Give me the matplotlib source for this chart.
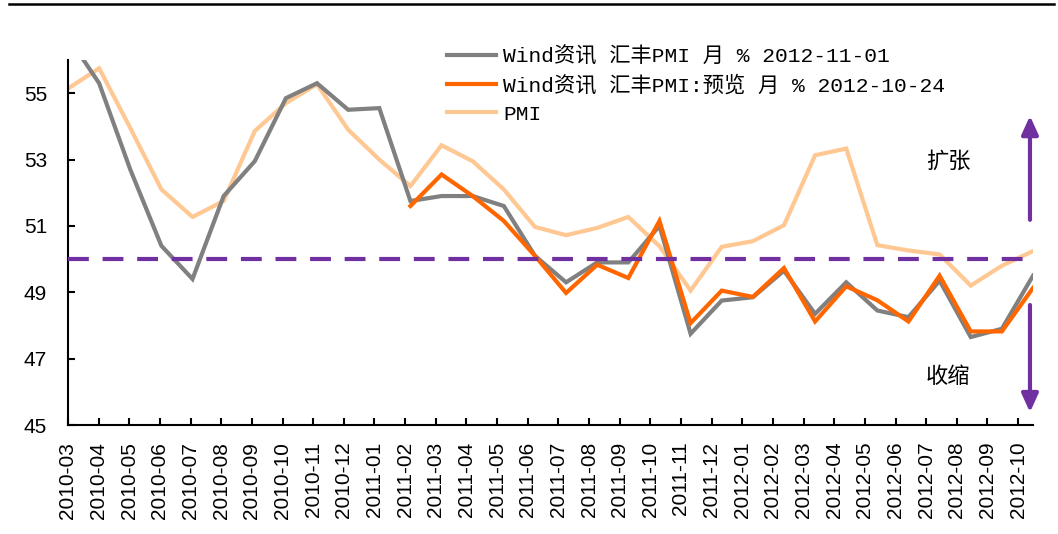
import matplotlib
matplotlib.use("Agg")
import matplotlib.pyplot as plt
from matplotlib.lines import Line2D
import numpy as np

months = ["2010-03", "2010-04", "2010-05", "2010-06", "2010-07", "2010-08", "2010-09", "2010-10",
          "2010-11", "2010-12", "2011-01", "2011-02", "2011-03", "2011-04", "2011-05", "2011-06",
          "2011-07", "2011-08", "2011-09", "2011-10", "2011-11", "2011-12", "2012-01", "2012-02",
          "2012-03", "2012-04", "2012-05", "2012-06", "2012-07", "2012-08", "2012-09", "2012-10"]

hsbc_final = [56.7, 55.3, 52.7, 50.4, 49.4, 51.9, 52.95, 54.85, 55.3, 54.5, 54.55, 51.75,
              51.9, 51.9, 51.6, 50.1, 49.3, 49.9, 49.9, 51.0, 47.75, 48.75, 48.85, 49.65,
              48.35, 49.3, 48.45, 48.25, 49.35, 47.65, 47.9, 49.5]

hsbc_flash = [None] * 11 + [51.6, 52.55, 51.9, 51.15, 50.1, 48.98, 49.83, 49.43, 51.15,
                            48.07, 49.05, 48.86, 49.73, 48.12, 49.18, 48.76, 48.12, 49.5,
                            47.82, 47.82, 49.13]

pmi = [55.14, 55.75, 53.95, 52.1, 51.27, 51.75, 53.86, 54.7, 55.27, 53.9, 53.0, 52.2,
       53.43, 52.95, 52.1, 50.97, 50.72, 50.94, 51.27, 50.39, 49.05, 50.37, 50.54, 51.02,
       53.13, 53.33, 50.42, 50.26, 50.14, 49.2, 49.8, 50.24]

labels = ["Wind资讯 汇丰PMI 月 % 2012-11-01",
          "Wind资讯 汇丰PMI:预览 月 % 2012-10-24",
          "PMI"]
threshold = 50
yticks = [45, 47, 49, 51, 53, 55]

c_gray = "#808080"
c_orange = "#FF6600"
c_light = "#FFC893"
c_purple = "#7030A0"

W, H = 1058, 534
fig = plt.figure(figsize=(W / 100, H / 100), dpi=100)
ax = fig.add_axes([68 / W, 1 - 425 / H, (1033 - 68) / W, (425 - 60) / H])

x = np.arange(len(months))
flash = np.array([np.nan if v is None else v for v in hsbc_flash], dtype=float)

ax.plot(x, pmi, color=c_light, lw=3.0, solid_joinstyle="miter", zorder=2)
ax.plot(x, hsbc_final, color=c_gray, lw=3.0, solid_joinstyle="miter", zorder=3)
ax.plot(x, flash, color=c_orange, lw=3.0, solid_joinstyle="miter", zorder=4)
ax.axhline(threshold, color=c_purple, lw=3.0, dashes=(5, 3.3), zorder=5)

ax.set_xlim(0, len(months) - 1)
ax.set_ylim(45, 56)
ax.set_yticks(yticks)
ax.set_yticklabels([str(v) for v in yticks], family="Liberation Sans", fontsize=15)

tick_scale = 30.65 / 31.13
ax.set_xticks(x * tick_scale)
ax.set_xticklabels(months, rotation=90, family="Liberation Sans", fontsize=15)
ax.tick_params(axis="both", direction="in", length=5, width=1.5, colors="black")
ax.tick_params(axis="x", pad=12)
ax.tick_params(axis="y", pad=15)
for s in ["top", "right"]:
    ax.spines[s].set_visible(False)
for s in ["left", "bottom"]:
    ax.spines[s].set_linewidth(1.5)
    ax.spines[s].set_color("black")

# arrows and annotations
xa = (1030 - 68) / 31.13
ax.annotate("", xy=(xa, 54.4), xytext=(xa, 51.1),
            arrowprops=dict(arrowstyle="-|>,head_length=1.1,head_width=0.5", color=c_purple, lw=3.0),
            annotation_clip=False)
ax.annotate("", xy=(xa, 45.3), xytext=(xa, 48.7),
            arrowprops=dict(arrowstyle="-|>,head_length=1.1,head_width=0.5", color=c_purple, lw=3.0),
            annotation_clip=False)
xt = (948 - 68) / 31.13
ax.text(xt, 52.95, "扩张", family=["Noto Sans CJK SC"], fontsize=16, ha="center", va="center")
ax.text(xt, 46.45, "收缩", family=["Noto Sans CJK SC"], fontsize=16, ha="center", va="center")

handles = [Line2D([], [], color=c_gray, lw=3.0),
           Line2D([], [], color=c_orange, lw=3.0),
           Line2D([], [], color=c_light, lw=3.0)]
leg = fig.legend(handles, labels, loc="upper left", bbox_to_anchor=(447 / W, 1 - 46 / H),
                 frameon=False, handlelength=2.3, handletextpad=0.35, labelspacing=0.42,
                 borderpad=0.0, borderaxespad=0.0,
                 prop={"family": ["Liberation Mono", "Noto Sans CJK SC"], "size": 15.3})

fig.add_artist(Line2D([9 / W, 1054 / W], [1 - 4 / H, 1 - 4 / H], color="black", lw=1.8,
                      transform=fig.transFigure))

fig.savefig("out.png", dpi=100)
